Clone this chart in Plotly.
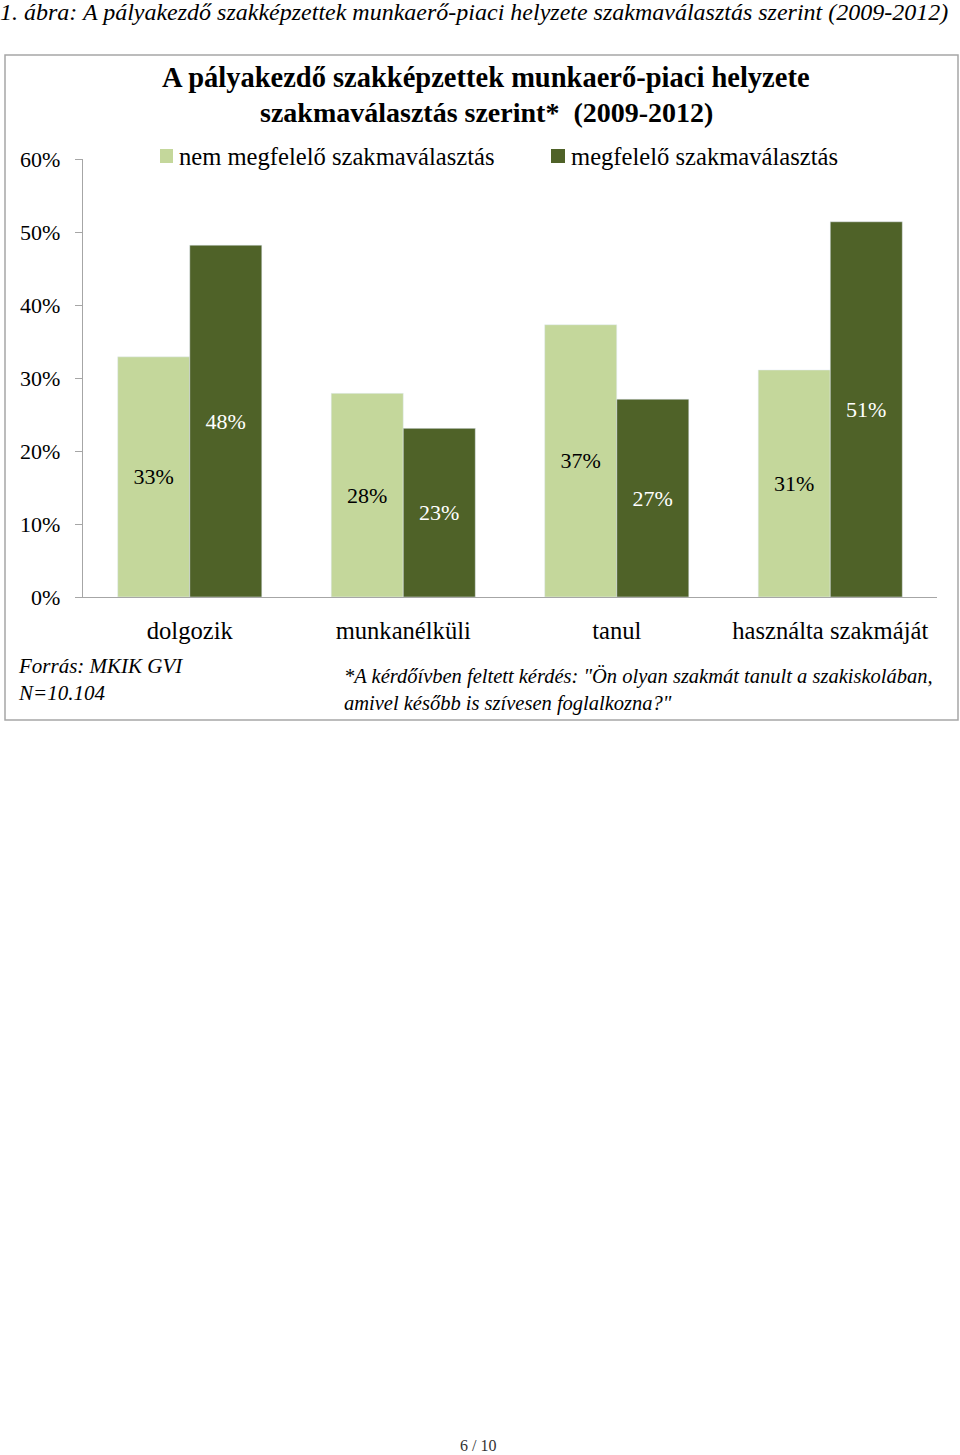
import plotly.graph_objects as go

categories = ["dolgozik", "munkanélküli", "tanul", "használta szakmáját"]
nem_megfelelo = [32.9, 27.9, 37.3, 31.1]
megfelelo = [48.2, 23.1, 27.1, 51.4]
series_names = ["nem megfelelő szakmaválasztás", "megfelelő szakmaválasztás"]
y_ticks = [0, 10, 20, 30, 40, 50, 60]
y_tick_labels = ["0%", "10%", "20%", "30%", "40%", "50%", "60%"]

LIGHT = "#C4D79B"
DARK = "#4F6228"
FONT = "Liberation Serif"

fig = go.Figure()
fig.add_trace(go.Bar(
    x=categories, y=nem_megfelelo, name=series_names[0], marker_color=LIGHT,
    text=[f"{round(v)}%" for v in nem_megfelelo], textposition="inside",
    insidetextanchor="middle", textangle=0, constraintext="none",
    textfont=dict(family=FONT, size=22, color="#000000"), showlegend=False))
fig.add_trace(go.Bar(
    x=categories, y=megfelelo, name=series_names[1], marker_color=DARK,
    text=[f"{round(v)}%" for v in megfelelo], textposition="inside",
    insidetextanchor="middle", textangle=0, constraintext="none",
    textfont=dict(family=FONT, size=22, color="#FFFFFF"), showlegend=False))

W, H = 960, 1455
L, R, T, B = 83, 23, 159, 858

def px(x):
    return (x - L) / (W - L - R)

def py(y):
    return (H - B - y) / (H - T - B)

def ann(text, x, y, xanchor="left", size=21, italic=False, bold=False, color="#000000", align="left"):
    return dict(text=text, x=px(x), y=py(y), xref="paper", yref="paper",
                xanchor=xanchor, yanchor="middle", align=align, showarrow=False,
                font=dict(family=FONT, size=size, color=color,
                          style="italic" if italic else "normal",
                          weight="bold" if bold else "normal"))

annotations = [
    ann("1. ábra: A pályakezdő szakképzettek munkaerő-piaci helyzete szakmaválasztás szerint (2009-2012)",
        -2, 12, size=24, italic=True),
    ann("A pályakezdő szakképzettek munkaerő-piaci helyzete", 486, 78, xanchor="center", size=28.5, bold=True),
    ann("szakmaválasztás szerint*  (2009-2012)", 486, 113, xanchor="center", size=28, bold=True),
    ann(series_names[0], 177, 156, size=24.6),
    ann(series_names[1], 569, 156, size=24.6),
    ann("Forrás: MKIK GVI<br>N=10.104", 16, 679, size=21, italic=True),
    ann("*A kérdőívben feltett kérdés: \"Ön olyan szakmát tanult a szakiskolában,<br>amivel később is szívesen foglalkozna?\"",
        342, 690, size=20.5, italic=True),
    ann("6 / 10", 478, 1445, xanchor="center", size=16, color="#333333"),
]

shapes = [
    dict(type="rect", xref="paper", yref="paper", x0=px(5), x1=px(958), y0=py(55), y1=py(720),
         line=dict(color="#A6A6A6", width=1.5), fillcolor="rgba(0,0,0,0)", layer="below"),
    dict(type="rect", xref="paper", yref="paper", x0=px(160), x1=px(173), y0=py(163), y1=py(149),
         line=dict(width=0), fillcolor=LIGHT),
    dict(type="rect", xref="paper", yref="paper", x0=px(551), x1=px(565), y0=py(163), y1=py(149),
         line=dict(width=0), fillcolor=DARK),
]

fig.update_layout(
    width=W, height=H,
    margin=dict(l=L, r=R, t=T, b=B, autoexpand=False),
    paper_bgcolor="white", plot_bgcolor="white",
    barmode="group", bargap=0.325, bargroupgap=0,
    font=dict(family=FONT, size=21, color="#000000"),
    annotations=annotations, shapes=shapes,
)
fig.update_xaxes(showline=True, linecolor="#A6A6A6", linewidth=1.3, ticks="",
                 tickfont=dict(family=FONT, size=24.6, color="#000000"),
                 ticklabelstandoff=11, showgrid=False, zeroline=False)
fig.update_yaxes(range=[0, 60], tickvals=y_ticks, ticktext=y_tick_labels,
                 showline=True, linecolor="#A6A6A6", linewidth=1.3,
                 ticks="outside", ticklen=7, tickcolor="#A6A6A6", tickwidth=1.3,
                 ticklabelstandoff=10, showgrid=False, zeroline=False,
                 tickfont=dict(family=FONT, size=22, color="#000000"))

fig.write_html("out.html", config={"displayModeBar": False},
               post_script="document.body.style.margin='0';document.body.style.overflow='hidden';")
